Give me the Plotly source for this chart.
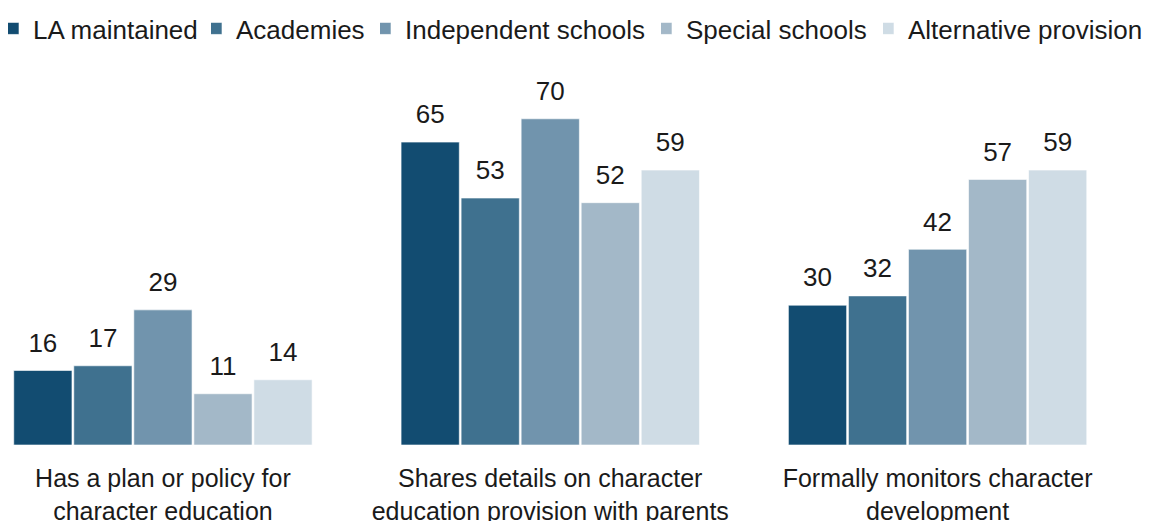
import plotly.graph_objects as go

categories = [
    "Has a plan or policy for<br>character education",
    "Shares details on character<br>education provision with parents",
    "Formally monitors character<br>development",
]
series_names = ["LA maintained", "Academies", "Independent schools",
                "Special schools", "Alternative provision"]
la_maintained = [16, 65, 30]
academies = [17, 53, 32]
independent_schools = [29, 70, 42]
special_schools = [11, 52, 57]
alternative_provision = [14, 59, 59]
series_values = [la_maintained, academies, independent_schools,
                 special_schools, alternative_provision]
colors = ["#124c71", "#3f718f", "#7194ad", "#a3b8c8", "#cfdce5"]

FONT = "Liberation Sans, Arial, sans-serif"
TXT = "#1a1a1a"
W, H = 1143, 513
legend_ids = ["legend", "legend2", "legend3", "legend4", "legend5"]
legend_px = [0, 203, 372, 653, 875]

fig = go.Figure()
for name, vals, col, lid in zip(series_names, series_values, colors, legend_ids):
    fig.add_trace(go.Bar(
        name=name, x=categories, y=vals, legend=lid,
        marker=dict(color=col, line=dict(color="rgba(255,255,255,0.6)", width=1)),
        hoverinfo="x+y+name",
    ))
for name, vals in zip(series_names, series_values):
    fig.add_trace(go.Scatter(
        x=categories, y=vals, mode="markers+text",
        text=[str(v) for v in vals], textposition="top center",
        textfont=dict(size=26, color=TXT, family=FONT),
        marker=dict(size=18, opacity=0),
        showlegend=False, hoverinfo="skip", cliponaxis=False,
    ))

legends = {}
for lid, px in zip(legend_ids, legend_px):
    legends[lid] = dict(orientation="h", x=px / W, xanchor="left",
                        y=1.167, yanchor="top", indentation=-15,
                        font=dict(size=26, color=TXT),
                        bgcolor="rgba(0,0,0,0)",
                        itemclick=False, itemdoubleclick=False)

fig.update_layout(
    width=W, height=H,
    margin=dict(l=0, r=0, t=60, b=76, autoexpand=False),
    paper_bgcolor="white", plot_bgcolor="white",
    barmode="group", bargap=0.225, bargroupgap=0.03,
    scattermode="group", scattergap=0.225,
    font=dict(family=FONT, size=25, color=TXT),
    showlegend=True,
    **legends,
)
fig.update_xaxes(range=[-0.400, 2.551], showline=False, showgrid=False,
                 ticks="", tickfont=dict(size=25, color=TXT),
                 ticklabelstandoff=16)
fig.update_yaxes(range=[0, 80.9], visible=False)
fig.write_html("out.html")
